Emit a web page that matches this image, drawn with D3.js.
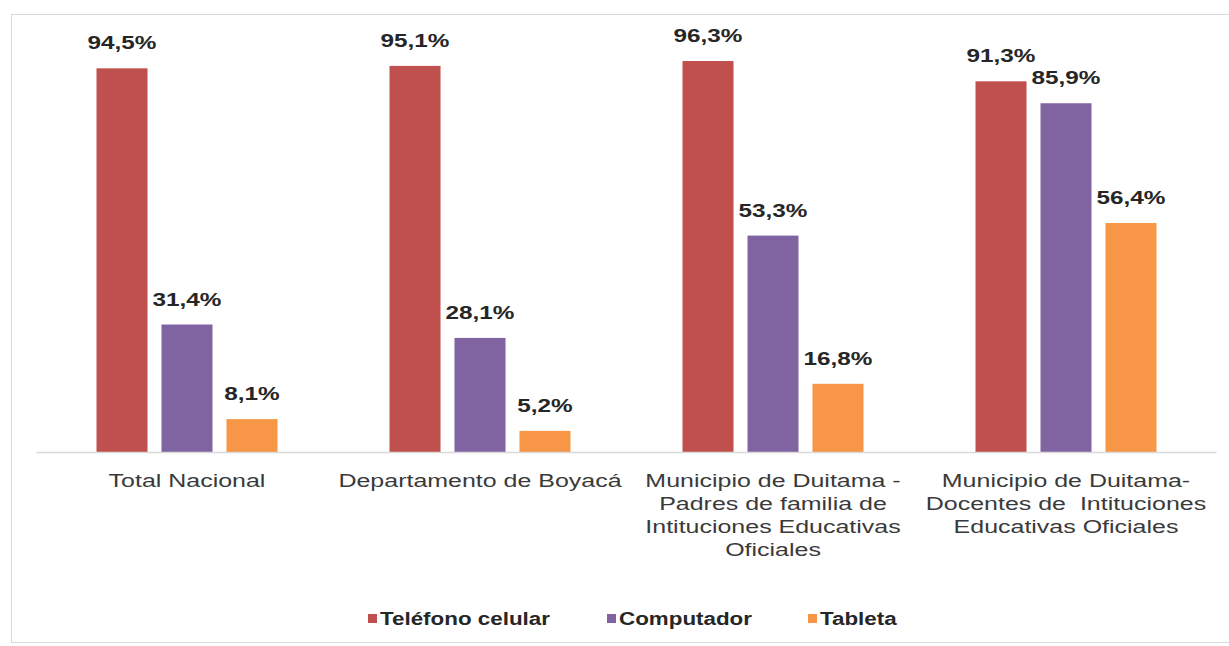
<!DOCTYPE html>
<html>
<head>
<meta charset="utf-8">
<script src="https://cdn.jsdelivr.net/npm/d3@7"></script>
<style>
  body { margin: 0; background: #fff; }
  svg { font-family: "Liberation Sans", Arial, sans-serif; }
</style>
</head>
<body>
<svg></svg>
<script>
const width = 1229;
const height = 646;

const categories = ['Total Nacional', 'Departamento de Boyacá', 'Municipio de Duitama - Padres', 'Municipio de Duitama - Docentes'];
const categoryLines = [
  ['Total Nacional'],
  ['Departamento de Boyacá'],
  ['Municipio de Duitama -', 'Padres de familia de', 'Intituciones Educativas', 'Oficiales'],
  ['Municipio de Duitama-', 'Docentes de  Intituciones', 'Educativas Oficiales']
];
const seriesNames = ['Teléfono celular', 'Computador', 'Tableta'];
const telefono = [94.5, 95.1, 96.3, 91.3];
const computador = [31.4, 28.1, 53.3, 85.9];
const tableta = [8.1, 5.2, 16.8, 56.4];
const colors = ['#C0504D', '#8064A2', '#F79646'];

const stretch = 1.28;
const fmt = v => v.toFixed(1).replace('.', ',') + '%';

const svg = d3.select('svg')
  .attr('width', width)
  .attr('height', height);

// frame
svg.append('rect')
  .attr('x', 11.5).attr('y', 14.5)
  .attr('width', 1240).attr('height', 628)
  .attr('fill', 'none')
  .attr('stroke', '#d9d9d9');

const baseline = 452;

const x0 = d3.scaleBand()
  .domain(categories)
  .range([40.5, 1212.5]);

const x1 = d3.scaleBand()
  .domain(seriesNames)
  .range([-90.5, 90.5])
  .paddingInner(0.215);

const y = d3.scaleLinear()
  .domain([0, 100])
  .range([baseline, baseline - 406]);

const rows = [];
categories.forEach((c, i) => {
  [telefono, computador, tableta].forEach((s, j) => {
    rows.push({ cat: c, series: seriesNames[j], value: s[i], color: colors[j] });
  });
});

const cx = c => x0(c) + x0.bandwidth() / 2;

svg.append('g')
  .selectAll('rect')
  .data(rows)
  .enter()
  .append('rect')
  .attr('x', d => cx(d.cat) + x1(d.series))
  .attr('y', d => y(d.value))
  .attr('width', x1.bandwidth())
  .attr('height', d => y(0) - y(d.value))
  .attr('fill', d => d.color);

// axis line
svg.append('line')
  .attr('x1', x0.range()[0] - 4).attr('x2', x0.range()[1] + 4)
  .attr('y1', baseline + 0.5).attr('y2', baseline + 0.5)
  .attr('stroke', '#d9d9d9')
  .attr('stroke-width', 1.5);

// value labels
svg.append('g')
  .selectAll('text')
  .data(rows)
  .enter()
  .append('text')
  .attr('transform', d => `translate(${cx(d.cat) + x1(d.series) + x1.bandwidth() / 2},${y(d.value) - 19}) scale(${stretch},1)`)
  .attr('text-anchor', 'middle')
  .attr('font-size', 19)
  .attr('font-weight', 'bold')
  .attr('fill', '#262626')
  .text(d => fmt(d.value));

// category labels
const catText = svg.append('g')
  .selectAll('text')
  .data(categories)
  .enter()
  .append('text')
  .attr('transform', c => `translate(${cx(c)},487) scale(1.35,1)`)
  .attr('text-anchor', 'middle')
  .attr('font-size', 18.5)
  .attr('fill', '#3a3a3a');

catText.each(function (c, i) {
  d3.select(this).selectAll('tspan')
    .data(categoryLines[i])
    .enter()
    .append('tspan')
    .attr('x', 0)
    .attr('dy', (d, k) => k === 0 ? 0 : 23)
    .style('white-space', 'pre')
    .text(d => d);
});

// legend
const legendX = [368, 607, 808];
const legend = svg.append('g')
  .selectAll('g')
  .data(seriesNames)
  .enter()
  .append('g')
  .attr('transform', (d, i) => `translate(${legendX[i]},619)`);

legend.append('rect')
  .attr('x', 0).attr('y', -5)
  .attr('width', 9).attr('height', 9)
  .attr('fill', (d, i) => colors[i]);

legend.append('text')
  .attr('transform', `translate(12,6) scale(${stretch},1)`)
  .attr('font-size', 17.5)
  .attr('font-weight', 'bold')
  .attr('fill', '#262626')
  .text(d => d);
</script>
</body>
</html>
